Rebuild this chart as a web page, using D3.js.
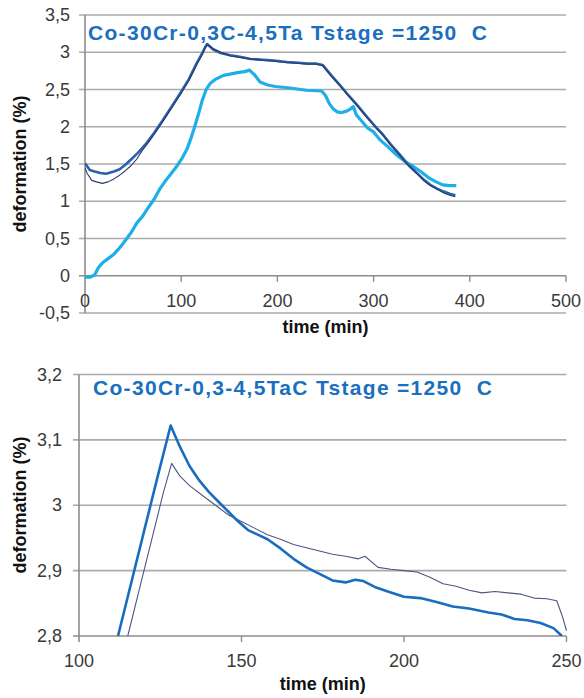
<!DOCTYPE html>
<html>
<head>
<meta charset="utf-8">
<script src="https://cdn.jsdelivr.net/npm/d3@7"></script>
<style>
  body { margin: 0; background: #fff; }
  svg { display: block; font-family: 'Liberation Sans', Arial, sans-serif; }
</style>
</head>
<body>
<div id="chart"></div>
<script>
// top chart: Co-30Cr-0,3C-4,5Ta, full cycle
var topTitle = 'Co-30Cr-0,3C-4,5Ta Tstage =1250  C'
var topXTicks = [0, 100, 200, 300, 400, 500]
var topYTicks = [-0.5, 0, 0.5, 1, 1.5, 2, 2.5, 3, 3.5]

var darkTime = [0, 5, 10, 16, 22, 30, 36, 42, 47, 55, 64, 72, 81, 90, 99, 108, 116, 122, 125, 127, 133, 141, 151, 161, 172, 185, 196, 210, 222, 231, 240, 247, 256, 265, 274, 283, 292, 300, 310, 318, 327, 336, 345, 352, 359, 366, 373, 379, 385]
var darkValue = [1.51, 1.42, 1.40, 1.38, 1.37, 1.40, 1.43, 1.49, 1.55, 1.65, 1.78, 1.92, 2.09, 2.27, 2.45, 2.64, 2.85, 2.99, 3.07, 3.11, 3.04, 2.99, 2.96, 2.94, 2.91, 2.90, 2.89, 2.87, 2.86, 2.85, 2.85, 2.83, 2.69, 2.56, 2.42, 2.29, 2.15, 2.03, 1.89, 1.76, 1.63, 1.49, 1.38, 1.29, 1.22, 1.17, 1.13, 1.10, 1.08]

var thinTime = [0, 2, 7, 12, 18, 24, 30, 36, 42, 48, 54, 60, 66, 72, 81, 90, 99, 108, 116, 122, 125, 127, 133, 141, 151, 161, 172, 185, 196, 210, 222, 231, 240, 247, 256, 265, 274, 283, 292, 300, 310, 318, 327, 336, 345, 352, 359, 366, 373, 379, 385]
var thinValue = [1.45, 1.38, 1.28, 1.26, 1.24, 1.26, 1.30, 1.35, 1.41, 1.48, 1.57, 1.69, 1.79, 1.90, 2.07, 2.25, 2.43, 2.62, 2.83, 2.97, 3.06, 3.10, 3.05, 3.00, 2.95, 2.93, 2.91, 2.89, 2.88, 2.86, 2.85, 2.84, 2.84, 2.82, 2.68, 2.55, 2.41, 2.28, 2.14, 2.02, 1.88, 1.75, 1.62, 1.48, 1.37, 1.28, 1.21, 1.16, 1.11, 1.08, 1.06]

var lightTime = [0, 5, 10, 14, 18, 24, 30, 35, 40, 48, 54, 60, 66, 72, 78, 84, 90, 96, 101, 106, 110, 114, 118, 122, 126, 130, 136, 144, 152, 160, 166, 171, 176, 182, 190, 198, 213, 230, 246, 250, 254, 258, 262, 267, 272, 276, 279, 282, 288, 294, 300, 307, 315, 324, 333, 341, 350, 358, 365, 372, 379, 386]
var lightValue = [-0.02, -0.02, 0.01, 0.11, 0.17, 0.23, 0.29, 0.36, 0.44, 0.58, 0.71, 0.80, 0.92, 1.03, 1.17, 1.28, 1.38, 1.48, 1.58, 1.70, 1.84, 2.00, 2.17, 2.36, 2.50, 2.58, 2.64, 2.69, 2.71, 2.73, 2.74, 2.76, 2.70, 2.60, 2.56, 2.54, 2.52, 2.49, 2.48, 2.42, 2.31, 2.24, 2.20, 2.19, 2.21, 2.24, 2.27, 2.16, 2.07, 1.98, 1.93, 1.82, 1.73, 1.62, 1.53, 1.47, 1.39, 1.31, 1.26, 1.22, 1.21, 1.21]

// bottom chart: zoom on the peak
var botTitle = 'Co-30Cr-0,3-4,5TaC Tstage =1250  C'
var botXTicks = [100, 150, 200, 250]
var botYTicks = [2.8, 2.9, 3, 3.1, 3.2]

var boldTime = [112, 116, 120, 124, 128.2, 131, 134, 137, 140, 143, 146, 149, 152, 155, 158, 162, 166, 170, 174, 178, 182, 185, 187.5, 191, 195, 200, 205, 210, 215, 220, 226, 230, 234, 238, 242, 246, 248.6]
var boldValue = [2.80, 2.88, 2.96, 3.04, 3.122, 3.09, 3.06, 3.038, 3.02, 3.005, 2.99, 2.975, 2.962, 2.955, 2.948, 2.934, 2.918, 2.905, 2.895, 2.885, 2.882, 2.886, 2.884, 2.875, 2.868, 2.860, 2.858, 2.852, 2.845, 2.842, 2.836, 2.833, 2.826, 2.824, 2.820, 2.812, 2.800]

var fineTime = [115, 119, 123, 126, 128.5, 131, 134, 138, 142, 146, 150, 154, 158, 162, 166, 170, 174, 178, 182, 186, 188, 192, 196, 200, 204, 208, 212, 216, 220, 224, 228, 232, 236, 240, 244, 247, 248.8, 250]
var fineValue = [2.80, 2.88, 2.96, 3.02, 3.064, 3.045, 3.030, 3.015, 3.000, 2.985, 2.975, 2.965, 2.955, 2.948, 2.940, 2.935, 2.930, 2.925, 2.922, 2.918, 2.922, 2.905, 2.902, 2.900, 2.898, 2.890, 2.880, 2.876, 2.870, 2.866, 2.868, 2.866, 2.864, 2.858, 2.857, 2.854, 2.829, 2.808]

var width = 584
var height = 698
var fmt = function(d) { return String(d).replace('.', ',') }

var svg = d3.select('#chart').append('svg')
  .attr('width', width)
  .attr('height', height)

drawChart({
  id: 'top',
  left: 85, right: 566, top: 15, bottom: 313,
  xDomain: [0, 500], yDomain: [-0.5, 3.5],
  xTicks: topXTicks, yTicks: topYTicks,
  xAxisAt: 0,
  title: topTitle, titleX: 88, titleY: 40,
  labelY: 164, timeY: 333, xLabelY: 307, yLabelX: 70,
  series: [
    { t: lightTime, v: lightValue, color: '#1eaee8', w: 3.2 },
    { t: darkTime, v: darkValue, color: '#2862aa', w: 2.6 },
    { t: thinTime, v: thinValue, color: '#2c3b6b', w: 1.1 }
  ]
})

drawChart({
  id: 'bot',
  left: 79, right: 566.5, top: 374.5, bottom: 636,
  xDomain: [100, 250], yDomain: [2.8, 3.2],
  xTicks: botXTicks, yTicks: botYTicks,
  xAxisAt: 2.8,
  title: botTitle, titleX: 93, titleY: 395,
  labelY: 505, timeY: 690, xLabelY: 667, yLabelX: 62,
  series: [
    { t: fineTime, v: fineValue, color: '#4a5781', w: 1.1 },
    { t: boldTime, v: boldValue, color: '#1a6cbf', w: 2.6 }
  ]
})

function drawChart(c) {
  var x = d3.scaleLinear().domain(c.xDomain).range([c.left, c.right])
  var y = d3.scaleLinear().domain(c.yDomain).range([c.bottom, c.top])
  var g = svg.append('g').attr('class', c.id)

  g.append('clipPath').attr('id', 'clip-' + c.id)
    .append('rect')
    .attr('x', c.left).attr('y', c.top - 3)
    .attr('width', c.right - c.left + 3).attr('height', c.bottom - c.top + 3)

  // horizontal grid lines, with short ticks left of the axis
  g.selectAll('.grid')
    .data(c.yTicks)
    .enter()
    .append('line')
    .attr('class', 'grid')
    .attr('x1', c.left - 6)
    .attr('x2', c.right)
    .attr('y1', function(d) { return y(d) })
    .attr('y2', function(d) { return y(d) })
    .attr('stroke', function(d) { return d === c.xAxisAt ? '#8c8c8c' : '#ababab' })
    .attr('stroke-width', 1.6)

  g.append('line')
    .attr('x1', c.left).attr('x2', c.left)
    .attr('y1', c.top).attr('y2', c.bottom + (c.xAxisAt === c.yDomain[0] ? 6 : 0))
    .attr('stroke', '#8c8c8c')
    .attr('stroke-width', 1.6)

  // x ticks hang below the horizontal axis
  g.selectAll('.xtick')
    .data(c.xTicks.filter(function(d) { return d !== c.xDomain[0] }))
    .enter()
    .append('line')
    .attr('x1', function(d) { return x(d) })
    .attr('x2', function(d) { return x(d) })
    .attr('y1', y(c.xAxisAt))
    .attr('y2', y(c.xAxisAt) + 6)
    .attr('stroke', '#8c8c8c')
    .attr('stroke-width', 1.4)

  g.selectAll('.ylab')
    .data(c.yTicks)
    .enter()
    .append('text')
    .attr('x', c.yLabelX)
    .attr('y', function(d) { return y(d) + 6 })
    .attr('text-anchor', 'end')
    .attr('font-size', 18)
    .attr('fill', '#3a3a3a')
    .text(fmt)

  g.selectAll('.xlab')
    .data(c.xTicks)
    .enter()
    .append('text')
    .attr('x', function(d) { return x(d) })
    .attr('y', c.xLabelY)
    .attr('text-anchor', 'middle')
    .attr('font-size', 18)
    .attr('fill', '#3a3a3a')
    .text(fmt)

  var line = d3.line()
    .x(function(d) { return x(d[0]) })
    .y(function(d) { return y(d[1]) })

  c.series.forEach(function(s) {
    g.append('path')
      .datum(d3.zip(s.t, s.v))
      .attr('clip-path', 'url(#clip-' + c.id + ')')
      .attr('fill', 'none')
      .attr('stroke', s.color)
      .attr('stroke-width', s.w)
      .attr('stroke-linejoin', 'round')
      .attr('d', line)
  })

  g.append('text')
    .attr('x', c.titleX)
    .attr('y', c.titleY)
    .attr('font-size', 21)
    .attr('font-weight', 'bold')
    .attr('fill', '#1a6fbe')
    .attr('textLength', 399)
    .attr('lengthAdjust', 'spacing')
    .style('white-space', 'pre')
    .text(c.title)

  g.append('text')
    .attr('x', (c.left + c.right) / 2)
    .attr('y', c.timeY)
    .attr('text-anchor', 'middle')
    .attr('font-size', 18)
    .attr('font-weight', 'bold')
    .attr('fill', '#111')
    .text('time (min)')

  g.append('text')
    .attr('transform', 'translate(26,' + c.labelY + ')rotate(-90)')
    .attr('text-anchor', 'middle')
    .attr('font-size', 18)
    .attr('font-weight', 'bold')
    .attr('fill', '#111')
    .text('deformation (%)')
}
</script>
</body>
</html>
